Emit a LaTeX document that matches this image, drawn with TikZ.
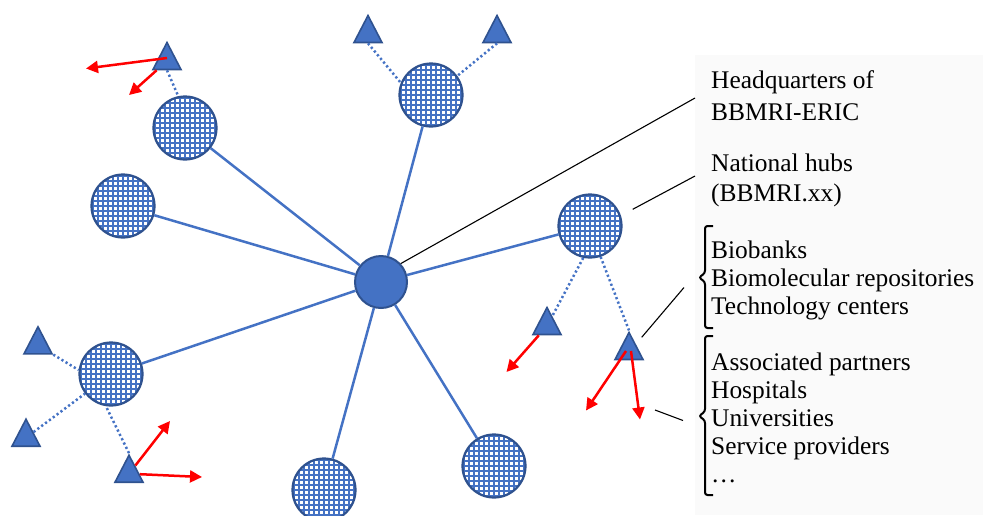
\documentclass[tikz,border=0pt]{standalone}
\usepackage{fontspec}
\setmainfont{Liberation Serif}
\usetikzlibrary{shapes.geometric,arrows.meta,calc}
\definecolor{bfill}{HTML}{4472C4}
\definecolor{bdark}{HTML}{2F528F}
\definecolor{panelgray}{HTML}{FAFAFA}
\begin{document}
\begin{tikzpicture}[x=1pt,y=-1pt,
  hubc/.style={circle, minimum size=63pt, inner sep=0pt, draw=bdark, line width=2.2pt, fill=white,
     path picture={\draw[bfill, line width=1.4pt] (path picture bounding box.south west) grid[step=5pt] (path picture bounding box.north east);}},
  core/.style={circle, minimum size=52pt, inner sep=0pt, fill=bfill, draw=bdark, line width=2pt},
  tri/.style={isosceles triangle, isosceles triangle stretches, shape border rotate=90,
     minimum width=28pt, minimum height=27pt, inner sep=0pt, fill=bfill, draw=bdark, line width=1.6pt},
  link/.style={bfill, line width=2.5pt},
  dots/.style={bfill, line width=2.5pt, dash pattern=on 2.2pt off 2.6pt},
  redarrow/.style={red, line width=2.5pt, -{Triangle[length=12pt,width=12pt]}},
  lead/.style={black, line width=1.1pt},
  lbl/.style={anchor=base west, inner sep=0pt, font=\fontsize{25.4pt}{28pt}\selectfont},
  brk/.style={black, line width=2pt, rounded corners=2.5pt}
]
\useasboundingbox (0,0) rectangle (983,515);
\fill[panelgray] (695,55) rectangle (983,515);

% circles
\node[core] (core) at (381,282) {};
\node[hubc] (cTop) at (431,95) {};
\node[hubc] (cUL) at (185,128) {};
\node[hubc] (cL) at (123,206) {};
\node[hubc] (cLL) at (111,374) {};
\node[hubc] (cB) at (324,490) {};
\node[hubc] (cBR) at (494,466) {};
\node[hubc] (cR) at (590,226) {};

% triangles
\node[tri] (tT1) at (368,34) {};
\node[tri] (tT2) at (497,34) {};
\node[tri] (tUL) at (167,61) {};
\node[tri] (tL1) at (38,345.3) {};
\node[tri] (tL2) at (26,437.7) {};
\node[tri] (tL3) at (129,473.7) {};
\node[tri] (tRA) at (547,326) {};
\node[tri] (tRB) at (629,351) {};

% solid links
\foreach \c in {cTop,cUL,cL,cLL,cB,cBR,cR} \draw[link] (core) -- (\c);

% dotted links
\draw[dots] (tT1.south) -- (cTop.158);
\draw[dots] (tT2.south) -- (cTop.36);
\draw[dots] (tUL.south) -- (cUL.102);
\draw[dots] (tL1) -- (cLL.173);
\draw[dots] (tL2) -- (cLL.217);
\draw[dots] (tL3.north) -- (cLL.261);
\draw[dots] (cR.258) -- (tRA);
\draw[dots] (cR.289) -- (tRB.north);

% red arrows
\coordinate (a1) at (86,68.5);
\coordinate (a2) at (129,95);
\coordinate (a3) at (170,421);
\coordinate (a4) at (202,477);
\coordinate (a5) at (506.5,372);
\coordinate (a6) at (586,410.5);
\coordinate (a7) at (640,419.5);
\draw[redarrow] ($(tUL)+(0,-3)$) -- (a1);
\draw[redarrow] (tUL) -- (a2);
\draw[redarrow] (tL3) -- (a3);
\draw[redarrow] (tL3) -- (a4);
\draw[redarrow] (tRA) -- (a5);
\draw[redarrow] ($(tRB)+(-3,0)$) -- (a6);
\draw[redarrow] ($(tRB)+(2,0)$) -- (a7);

% leader lines
\coordinate (hqE) at (695,98);
\coordinate (nhS) at (632.7,209.3);
\coordinate (nhE) at (695,176);
\coordinate (bbS) at (641.7,337.3);
\coordinate (bbE) at (684,287.5);
\coordinate (apS) at (655,410);
\coordinate (apE) at (683,420.5);
\draw[lead] (core.43) -- (hqE);
\draw[lead] (nhS) -- (nhE);
\draw[lead] (bbS) -- (bbE);
\draw[lead] (apS) -- (apE);

% brackets
\draw[brk] (713,226) -- (705,226) -- (705,273) -- (699,277.5) -- (705,282) -- (705,328) -- (713,328);
\draw[brk] (713,336) -- (705,336) -- (705,411.5) -- (699,416) -- (705,420.5) -- (705,495) -- (713,495);

% labels
\node[lbl] (hq1) at (711,88) {Headquarters of};
\node[lbl] (hq2) at (711,120) {BBMRI-ERIC};
\node[lbl] (nh1) at (711,171.5) {National hubs};
\node[lbl] (nh2) at (711,201.5) {(BBMRI.xx)};
\node[lbl] (bb1) at (711,258) {Biobanks};
\node[lbl] (bb2) at (711,286.5) {Biomolecular repositories};
\node[lbl] (bb3) at (711,314.5) {Technology centers};
\node[lbl] (ap1) at (711,370) {Associated partners};
\node[lbl] (ap2) at (711,398) {Hospitals};
\node[lbl] (ap3) at (711,426) {Universities};
\node[lbl] (ap4) at (711,454) {Service providers};
\node[lbl] (ap5) at (711,482) {…};
\end{tikzpicture}
\end{document}
